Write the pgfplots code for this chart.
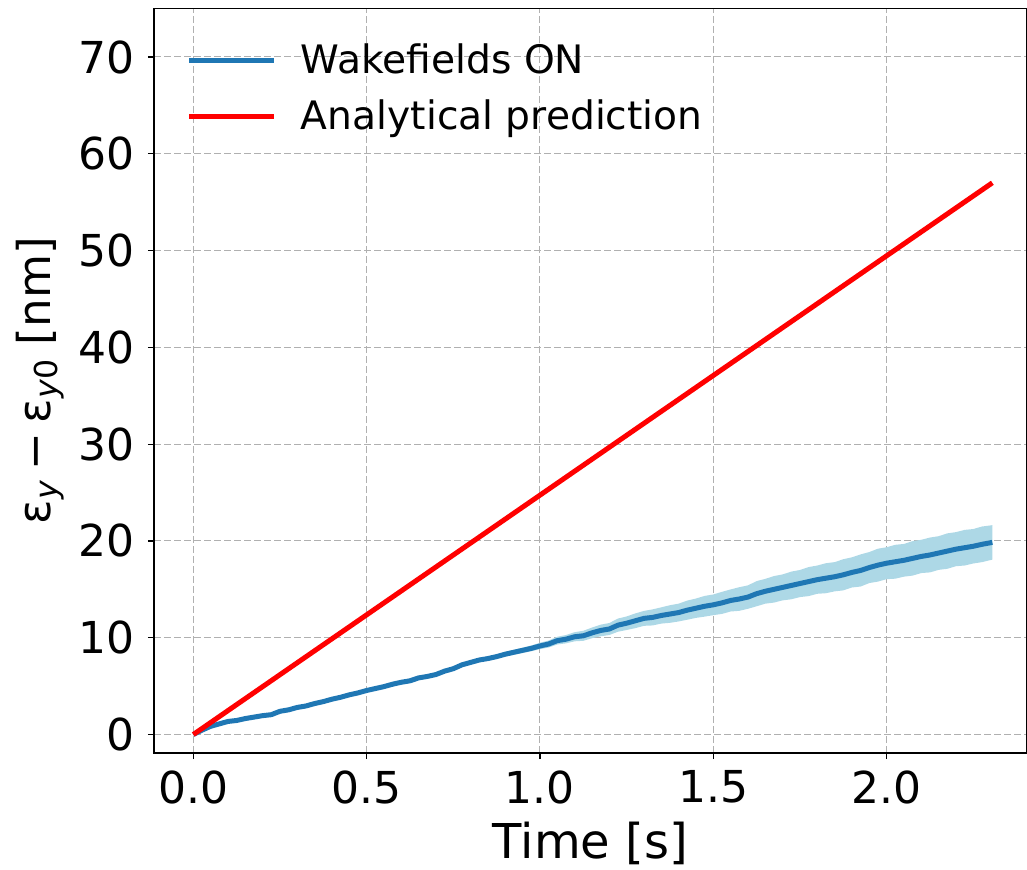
\documentclass[border=0pt]{standalone}
\usepackage{fontspec}
\setmainfont{DejaVu Sans}
\usepackage{pgfplots}
\pgfplotsset{compat=1.18}
\usepgfplotslibrary{fillbetween}
\usepackage{pgfplotstable}
\definecolor{tabblue}{RGB}{31,119,180}
\definecolor{lblue}{RGB}{173,216,230}
\definecolor{gridgray}{RGB}{176,176,176}
\newcommand\sub[1]{\raisebox{-0.17em}{\fontsize{15.8}{16}\selectfont #1}}

\pgfplotstableread{
t m s
0.000 0.00 0.00
0.025 0.45 0.05
0.050 0.85 0.05
0.075 1.10 0.05
0.100 1.35 0.05
0.125 1.45 0.05
0.150 1.65 0.06
0.175 1.80 0.06
0.200 1.95 0.06
0.225 2.05 0.07
0.250 2.40 0.07
0.275 2.55 0.07
0.300 2.80 0.08
0.325 2.95 0.08
0.350 3.20 0.08
0.375 3.40 0.09
0.400 3.65 0.09
0.425 3.85 0.10
0.450 4.10 0.10
0.475 4.30 0.10
0.500 4.55 0.11
0.525 4.75 0.11
0.550 4.95 0.12
0.575 5.20 0.12
0.600 5.40 0.13
0.625 5.55 0.13
0.650 5.85 0.14
0.675 6.00 0.14
0.700 6.20 0.15
0.725 6.55 0.15
0.750 6.80 0.16
0.775 7.20 0.17
0.800 7.45 0.18
0.825 7.70 0.19
0.850 7.85 0.20
0.875 8.05 0.22
0.900 8.30 0.24
0.925 8.50 0.26
0.950 8.70 0.28
0.975 8.90 0.30
1.000 9.15 0.33
1.025 9.35 0.36
1.050 9.70 0.40
1.075 9.85 0.43
1.100 10.10 0.47
1.125 10.20 0.52
1.150 10.50 0.55
1.175 10.75 0.60
1.200 10.90 0.62
1.225 11.30 0.68
1.250 11.50 0.70
1.275 11.75 0.76
1.300 12.00 0.77
1.325 12.10 0.83
1.350 12.30 0.84
1.375 12.45 0.91
1.400 12.60 0.92
1.425 12.85 0.99
1.450 13.05 1.00
1.475 13.25 1.07
1.500 13.40 1.07
1.525 13.60 1.14
1.550 13.85 1.14
1.575 14.00 1.22
1.600 14.20 1.21
1.625 14.55 1.30
1.650 14.80 1.28
1.675 15.00 1.37
1.700 15.20 1.34
1.725 15.40 1.43
1.750 15.60 1.40
1.775 15.80 1.50
1.800 16.00 1.46
1.825 16.15 1.55
1.850 16.30 1.51
1.875 16.50 1.61
1.900 16.75 1.56
1.925 16.95 1.66
1.950 17.25 1.60
1.975 17.50 1.70
2.000 17.70 1.65
2.025 17.85 1.75
2.050 18.00 1.69
2.075 18.20 1.78
2.100 18.40 1.72
2.125 18.55 1.80
2.150 18.75 1.74
2.175 18.95 1.83
2.200 19.15 1.76
2.225 19.30 1.84
2.250 19.45 1.78
2.275 19.65 1.84
2.305 19.85 1.78
}\wake

\begin{document}
\begin{tikzpicture}
\begin{axis}[
  name=ax,
  scale only axis,
  width=436.5pt, height=372.2pt,
  xmin=-0.1134, xmax=2.405,
  ymin=-1.91, ymax=75,
  xtick={0,0.5,1,1.5,2},
  ytick={0,10,20,30,40,50,60,70},
  x tick label style={/pgf/number format/fixed, /pgf/number format/fixed zerofill, /pgf/number format/precision=1},
  /pgf/number format/assume math mode=true,
  tick label style={font=\fontsize{22}{26}\selectfont},
  x tick label style={anchor=north, inner sep=0pt, yshift=-5.5pt},
  y tick label style={anchor=east, inner sep=0pt, xshift=-6.5pt},
  tick align=outside,
  xtick pos=bottom, ytick pos=left,
  major tick length=3pt,
  tick style={black, line width=0.6pt},
  axis line style={black, line width=0.6pt},
  grid=major,
  major grid style={gridgray, line width=0.5pt, dash pattern=on 3.35pt off 1.65pt},
  xlabel={Time [s]},
  xlabel style={at={(axis description cs:0.5,-0.1416)}, anchor=base, inner sep=0pt, font=\fontsize{24}{28}\selectfont},
  ylabel={ε\sub{\textit{y}}\hspace{0.22em}−\hspace{0.22em}ε\sub{\textit{y}0} [nm]},
  ylabel style={at={(axis description cs:-0.1191,0.5)}, anchor=base, inner sep=0pt, font=\fontsize{22.6}{26}\selectfont},
  legend cell align=left,
  legend image code/.code={\draw[#1] (0pt,1.6pt) -- (42.5pt,1.6pt);},
  legend style={draw=none, fill=none, at={(axis description cs:0.0375,0.9507)}, anchor=north west,
    inner sep=0pt, outer sep=0pt, row sep=10.3pt, column sep=12.1pt,
    font=\fontsize{19.6}{23}\selectfont,
    nodes={inner sep=0pt, text height=14pt, text depth=4pt}},
]
\addplot[name path=up, draw=none, forget plot] table[x=t, y expr=\thisrow{m}+\thisrow{s}] {\wake};
\addplot[name path=lo, draw=none, forget plot] table[x=t, y expr=\thisrow{m}-\thisrow{s}] {\wake};
\addplot[lblue, forget plot] fill between[of=up and lo];
\addplot[tabblue, line width=2.5pt, line join=round] table[x=t, y=m] {\wake};
\addlegendentry{Wakefields ON}
\addplot[red, line width=2.5pt] coordinates {(0,0) (2.305,57.0)};
\addlegendentry{Analytical prediction}
\end{axis}
\pgfresetboundingbox
\useasboundingbox ([xshift=-77pt,yshift=-58pt]ax.south west) rectangle ([yshift=4.3pt]ax.north east);
\end{tikzpicture}
\end{document}
